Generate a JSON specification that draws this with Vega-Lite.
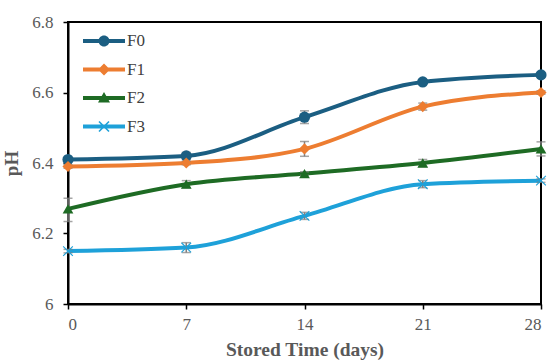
{
  "$schema": "https://vega.github.io/schema/vega-lite/v6.json",
  "width": 473,
  "height": 282,
  "autosize": {"type": "none"},
  "padding": {"left": 68, "top": 22, "right": 9, "bottom": 57},
  "background": "white",
  "data": {
    "values": [
      {"t": 0, "s": "F0", "ph": 6.41, "lo": 6.405, "hi": 6.415},
      {"t": 7, "s": "F0", "ph": 6.42, "lo": 6.41, "hi": 6.43},
      {"t": 14, "s": "F0", "ph": 6.53, "lo": 6.512, "hi": 6.548},
      {"t": 21, "s": "F0", "ph": 6.63, "lo": 6.625, "hi": 6.635},
      {"t": 28, "s": "F0", "ph": 6.65, "lo": 6.645, "hi": 6.655},
      {"t": 0, "s": "F1", "ph": 6.39, "lo": 6.385, "hi": 6.395},
      {"t": 7, "s": "F1", "ph": 6.4, "lo": 6.395, "hi": 6.405},
      {"t": 14, "s": "F1", "ph": 6.44, "lo": 6.419, "hi": 6.461},
      {"t": 21, "s": "F1", "ph": 6.56, "lo": 6.55, "hi": 6.57},
      {"t": 28, "s": "F1", "ph": 6.6, "lo": 6.595, "hi": 6.605},
      {"t": 0, "s": "F2", "ph": 6.27, "lo": 6.234, "hi": 6.3},
      {"t": 7, "s": "F2", "ph": 6.34, "lo": 6.33, "hi": 6.35},
      {"t": 14, "s": "F2", "ph": 6.37, "lo": 6.365, "hi": 6.375},
      {"t": 21, "s": "F2", "ph": 6.4, "lo": 6.39, "hi": 6.41},
      {"t": 28, "s": "F2", "ph": 6.44, "lo": 6.42, "hi": 6.46},
      {"t": 0, "s": "F3", "ph": 6.15, "lo": 6.145, "hi": 6.155},
      {"t": 7, "s": "F3", "ph": 6.16, "lo": 6.146, "hi": 6.174},
      {"t": 14, "s": "F3", "ph": 6.25, "lo": 6.24, "hi": 6.26},
      {"t": 21, "s": "F3", "ph": 6.34, "lo": 6.33, "hi": 6.35},
      {"t": 28, "s": "F3", "ph": 6.35, "lo": 6.345, "hi": 6.355}
    ]
  },
  "resolve": {"legend": {"color": "independent", "shape": "independent"}},
  "encoding": {
    "x": {
      "field": "t", "type": "quantitative",
      "scale": {"domain": [0, 28], "nice": false, "zero": false},
      "axis": {"values": [0, 7, 14, 21, 28], "title": "Stored Time (days)", "titlePadding": 8, "titleFontSize": 19.5, "labelPadding": 7}
    }
  },
  "layer": [
    {
      "mark": {"type": "line", "interpolate": "monotone", "strokeWidth": 4},
      "encoding": {
        "y": {
          "field": "ph", "type": "quantitative",
          "scale": {"domain": [6, 6.8], "nice": false, "zero": false},
          "axis": {"values": [6, 6.2, 6.4, 6.6, 6.8], "format": ".1~f", "title": "pH", "titlePadding": 10, "titleFontSize": 19, "labelPadding": 10}
        },
        "color": {
          "field": "s", "type": "nominal",
          "scale": {"domain": ["F0", "F1", "F2", "F3"], "range": ["#1b5e82", "#ed7d31", "#1e6b24", "#1ea1d9"]},
          "legend": null
        }
      }
    },
    {
      "mark": {"type": "rule", "color": "#7f7f7f", "strokeWidth": 1.5},
      "encoding": {
        "y": {"field": "lo", "type": "quantitative"},
        "y2": {"field": "hi"}
      }
    },
    {
      "mark": {"type": "tick", "orient": "horizontal", "color": "#7f7f7f", "size": 9, "thickness": 1.5},
      "encoding": {"y": {"field": "lo", "type": "quantitative"}}
    },
    {
      "mark": {"type": "tick", "orient": "horizontal", "color": "#7f7f7f", "size": 9, "thickness": 1.5},
      "encoding": {"y": {"field": "hi", "type": "quantitative"}}
    },
    {
      "transform": [{"filter": "datum.s === 'F0'"}],
      "mark": {"type": "point", "filled": true, "shape": "circle", "size": 125, "opacity": 1},
      "encoding": {"y": {"field": "ph", "type": "quantitative"}, "color": {"field": "s", "type": "nominal", "legend": null}}
    },
    {
      "transform": [{"filter": "datum.s === 'F1'"}],
      "mark": {"type": "point", "filled": true, "shape": "diamond", "size": 125, "opacity": 1},
      "encoding": {"y": {"field": "ph", "type": "quantitative"}, "color": {"field": "s", "type": "nominal", "legend": null}}
    },
    {
      "transform": [{"filter": "datum.s === 'F2'"}],
      "mark": {"type": "point", "filled": true, "shape": "triangle-up", "size": 115, "opacity": 1},
      "encoding": {"y": {"field": "ph", "type": "quantitative"}, "color": {"field": "s", "type": "nominal", "legend": null}}
    },
    {
      "transform": [{"filter": "datum.s === 'F3'"}],
      "mark": {"type": "point", "filled": true, "shape": "M-1,-0.85L0.85,1L1,0.85L-0.85,-1Z M-0.85,1L1,-0.85L0.85,-1L-1,0.85Z", "size": 110, "opacity": 1},
      "encoding": {"y": {"field": "ph", "type": "quantitative"}, "color": {"field": "s", "type": "nominal", "legend": null}}
    },
    {
      "mark": {"type": "point", "filled": true, "opacity": 0},
      "encoding": {
        "y": {"field": "ph", "type": "quantitative"},
        "color": {
          "field": "s", "type": "nominal",
          "legend": {
            "orient": "none", "legendX": 26, "legendY": 9, "title": null,
            "symbolSize": 400, "rowPadding": 10.5, "labelOffset": 13, "padding": 0,
            "symbolOpacity": 1, "symbolStrokeWidth": 0,
            "labelFont": "Liberation Serif", "labelFontSize": 17, "labelColor": "#404040"
          }
        },
        "shape": {
          "field": "s", "type": "nominal",
          "scale": {"domain": ["F0", "F1", "F2", "F3"], "range": [
            "M-2.1,-0.2H2.1V0.2H-2.1Z M0.55,0A0.55,0.55,0,1,1,-0.55,0A0.55,0.55,0,1,1,0.55,0Z",
            "M-2.1,-0.2H2.1V0.2H-2.1Z M0,-0.6L0.6,0L0,0.6L-0.6,0Z",
            "M-2.1,-0.2H2.1V0.2H-2.1Z M0,-0.6L0.6,0.45L-0.6,0.45Z",
            "M-2.1,-0.2H2.1V0.2H-2.1Z M-0.443,-0.557L0.557,0.443L0.443,0.557L-0.557,-0.443Z M-0.557,0.443L0.443,-0.557L0.557,-0.443L-0.443,0.557Z"
          ]},
          "legend": {
            "orient": "none", "legendX": 26, "legendY": 9, "title": null,
            "symbolSize": 400, "rowPadding": 10.5, "labelOffset": 13, "padding": 0,
            "symbolOpacity": 1, "symbolStrokeWidth": 0,
            "labelFont": "Liberation Serif", "labelFontSize": 17, "labelColor": "#404040"
          }
        }
      }
    }
  ],
  "config": {
    "font": "Liberation Serif",
    "view": {"stroke": "black", "strokeWidth": 2},
    "legend": {"labelFont": "Liberation Serif", "labelFontSize": 17, "labelColor": "#404040"},
    "axis": {
      "grid": false,
      "domainColor": "black", "domainWidth": 2,
      "tickColor": "black", "tickWidth": 1.5, "tickSize": 5,
      "labelFont": "Liberation Serif", "labelFontSize": 17, "labelColor": "#595959",
      "titleFont": "Liberation Serif", "titleFontWeight": "bold", "titleColor": "#595959"
    }
  }
}
